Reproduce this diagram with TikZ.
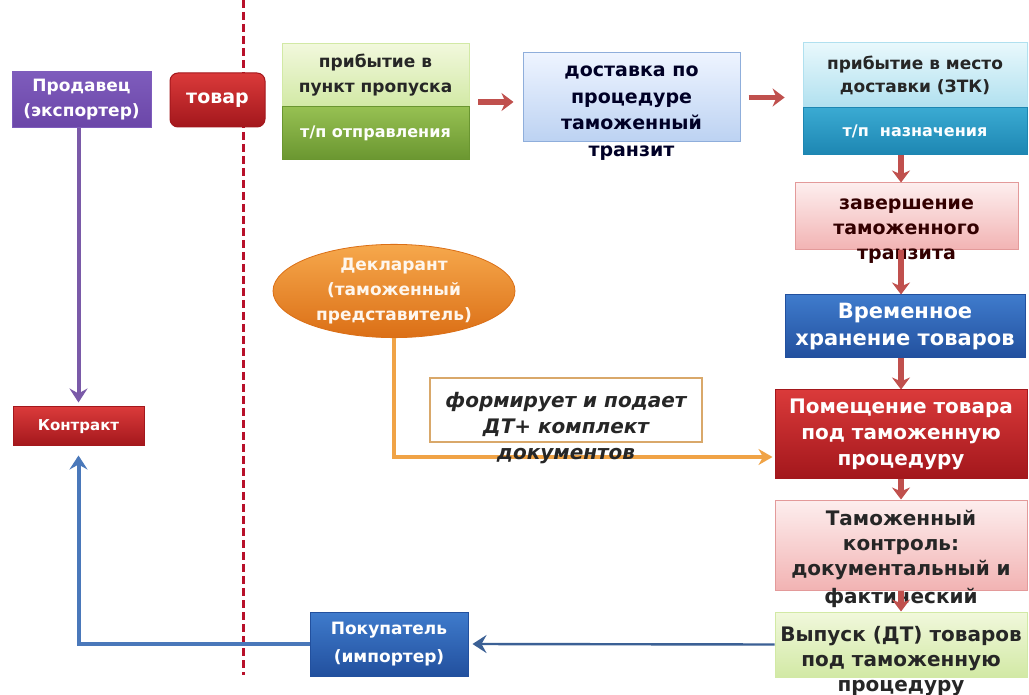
\documentclass[tikz,border=0pt]{standalone}
\usepackage{fontspec}
\setmainfont{DejaVu Sans}
\usetikzlibrary{arrows.meta,positioning,calc,shapes.geometric}
\definecolor{cPurple}{HTML}{6B46A8}
\definecolor{cPurpleT}{HTML}{7E5CBC}
\definecolor{cRedT}{HTML}{DA3A3A}
\definecolor{cRedB}{HTML}{A3171C}
\definecolor{cGreenT}{HTML}{F1F8DC}
\definecolor{cGreenB}{HTML}{D2E9A5}
\definecolor{cGreenDT}{HTML}{96C052}
\definecolor{cGreenDB}{HTML}{6A9630}
\definecolor{cSkyT}{HTML}{EEF4FF}
\definecolor{cSkyB}{HTML}{BCD2F2}
\definecolor{cSkyD}{HTML}{8FAEDB}
\definecolor{cCyanT}{HTML}{E8F8FC}
\definecolor{cCyanB}{HTML}{B0E0EF}
\definecolor{cCyanDT}{HTML}{3AAAD2}
\definecolor{cCyanDB}{HTML}{1D86B2}
\definecolor{cPinkT}{HTML}{FDEEEE}
\definecolor{cPinkB}{HTML}{F2B3B3}
\definecolor{cPinkD}{HTML}{E39A9A}
\definecolor{cBlueT}{HTML}{3F7BCC}
\definecolor{cBlueB}{HTML}{22509E}
\definecolor{cOrT}{HTML}{F6A84C}
\definecolor{cOrB}{HTML}{DB6F16}
\definecolor{cArr}{HTML}{C0504D}
\definecolor{cLine}{HTML}{B8102A}
\definecolor{cOrLine}{HTML}{F0A346}
\definecolor{cFrame}{HTML}{D9A86A}
\definecolor{cBlueLine}{HTML}{4A78BA}
\definecolor{cPurLine}{HTML}{7A5AA8}
\newcommand\fsz[2]{\fontsize{#1}{#2}\selectfont}

\begin{document}
\begin{tikzpicture}[x=0.5pt, y=-0.5pt,
    every node/.style={align=center, inner sep=0pt, font=\bfseries},
    box/.style={rectangle, draw=#1, line width=0.5pt},
    redarr/.style={draw=cArr, line width=2.6pt, -{Stealth[length=6pt,width=9pt]}},
    bluearr/.style={draw=cBlueLine, line width=2pt, -{Stealth[length=7pt,width=9pt,inset=2.5pt]}},
  ]
  \fill[white] (0,0) rectangle (1029,695);
  \useasboundingbox (0,0) rectangle (1029,695);
  % border
  \draw[cLine, line width=1.5pt, dash pattern=on 4pt off 2pt] (243,0) -- (243,675);

  % seller, goods, contract, buyer
  \node[box=cPurpleT, top color=cPurpleT, bottom color=cPurple, minimum width=69.5pt, minimum height=28pt,
        text=white, font=\bfseries\fsz{8.5}{12.5}] (prod) at (81.5,100) {Продавец\\(экспортер)};
  \node[box=cRedB, rounded corners=4pt, top color=cRedT, bottom color=cRedB, minimum width=47.5pt, minimum height=27pt,
        text=white, font=\bfseries\fsz{9.5}{12}] (tovar) at (217.5,100) {товар};
  \node[box=cRedB, top color=cRedT, bottom color=cRedB, minimum width=65.5pt, minimum height=19.5pt,
        text=white, font=\bfseries\fsz{7.5}{9}] (kontr) at (78.5,426.5) {Контракт};
  \node[box=cBlueB, top color=cBlueT, bottom color=cBlueB, minimum width=79pt, minimum height=32pt,
        text=white, font=\bfseries\fsz{8.5}{14}] (pokup) at (389,644) {Покупатель\\(импортер)};

  % top row
  \node[box=cGreenB, top color=cGreenT, bottom color=cGreenB, minimum width=93.5pt, minimum height=31.5pt,
        text=black!85, font=\bfseries\fsz{8.5}{12.5}] (prib1t) at (375.5,75.5) {прибытие в\\пункт пропуска};
  \node[box=cGreenDB, top color=cGreenDT, bottom color=cGreenDB, minimum width=93.5pt, minimum height=26.5pt,
        text=white!88!cGreenT, font=\bfseries\fsz{8}{10}] (prib1b) at (375.5,133.5) {т/п отправления};
  \node[minimum width=93.5pt, minimum height=58pt] (prib1) at (375.5,102) {};

  \node[box=cSkyD, top color=cSkyT, bottom color=cSkyB, minimum width=108.5pt, minimum height=44.5pt] (dost) at (631.5,97.5) {};
  \node[text=black!85!blue, font=\bfseries\fsz{9.5}{13.25}] (dosttxt) at (631.5,113) {доставка по\\процедуре\\таможенный\\транзит};

  \node[box=cCyanB, top color=cCyanT, bottom color=cCyanB, minimum width=112pt, minimum height=32.5pt,
        text=black!85, font=\bfseries\fsz{8.5}{11.5}] (prib2t) at (915,75.5) {прибытие в место\\доставки (ЗТК)};
  \node[box=cCyanDB, top color=cCyanDT, bottom color=cCyanDB, minimum width=112pt, minimum height=23.5pt,
        text=white!88!cCyanT, font=\bfseries\fsz{8}{10}] (prib2b) at (915,131.5) {т/п~~назначения};
  \node[minimum width=112pt, minimum height=56pt] (prib2) at (915,99) {};

  % right column
  \node[box=cPinkD, top color=cPinkT, bottom color=cPinkB, minimum width=111.5pt, minimum height=33.5pt] (zav) at (906.5,216.5) {};
  \node[text=black!80!red, font=\bfseries\fsz{9.5}{12.5}] (zavtxt) at (906.5,231) {завершение\\таможенного\\транзита};
  \node[box=cBlueB, top color=cBlueT, bottom color=cBlueB, minimum width=120pt, minimum height=31.5pt,
        text=white, font=\bfseries\fsz{10.5}{13.5}] (vrem) at (905,326.5) {Временное\\хранение товаров};
  \node[box=cRedB, top color=cRedT, bottom color=cRedB, minimum width=126pt, minimum height=44pt,
        text=white, font=\bfseries\fsz{10}{13}] (pomesh) at (901,434) {Помещение товара\\под таможенную\\процедуру};
  \node[box=cPinkD, top color=cPinkT, bottom color=cPinkB, minimum width=126pt, minimum height=45pt] (tamk) at (901,545) {};
  \node[text=black!85, font=\bfseries\fsz{10}{12.5}] (tamktxt) at (901,559) {Таможенный\\контроль:\\документальный и\\[1.5pt]фактический};
  \node[box=cGreenB, top color=cGreenT, bottom color=cGreenB, minimum width=126pt, minimum height=32.5pt] (vyp) at (901,644.5) {};
  \node[text=black!85, font=\bfseries\fsz{10}{12.5}] (vyptxt) at (901,661) {Выпуск (ДТ) товаров\\под таможенную\\процедуру};

  % declarant
  \node[ellipse, draw=cOrB, top color=cOrT, bottom color=cOrB, minimum width=121pt, minimum height=46pt,
        text=white!90!cOrT, font=\bfseries\fsz{8.5}{12.5}] (dekl) at (394,291) {Декларант\\(таможенный\\представитель)};
  \node[box=cFrame, line width=1pt, fill=white, minimum width=136pt, minimum height=32pt] (formbox) at (566,410) {};
  \draw[cOrLine, line width=2pt, -{Stealth[length=7pt,width=8pt]}, shorten >=1pt]
    (dekl.south) |- ([yshift=-11.5pt]pomesh.west);
  \node[text=black!85, font=\bfseries\itshape\fsz{10}{13}] (formtxt) at (566,428.5) {формирует и подает\\ДТ+ комплект\\документов};

  % arrows
  \draw[redarr, shorten <=4.5pt, shorten >=4.5pt] (prib1.east) -- (prib1.east -| dost.west);
  \draw[redarr, shorten <=4pt, shorten >=9pt] (dost.east) -- (dost.east -| prib2.west);
  \draw[redarr] (prib2.south -| pomesh) -- (zav.north -| pomesh);
  \draw[redarr] (zav.south -| pomesh) -- (vrem.north -| pomesh);
  \draw[redarr] (vrem.south -| pomesh) -- (pomesh.north);
  \draw[redarr] (pomesh.south) -- (tamk.north);
  \draw[redarr] (tamk.south) -- (vyp.north);
  \draw[cPurLine, line width=2pt, -{Stealth[length=7pt,width=9pt,inset=2.5pt]}, shorten >=2pt]
    (prod.south -| kontr) -- (kontr.north);
  \draw[bluearr, draw=cBlueLine!80!black, line width=1.2pt, shorten >=2pt] (vyp.west) -- (pokup.east);
  \draw[bluearr, shorten >=4.5pt] (pokup.west) -| (kontr.south);
\end{tikzpicture}
\end{document}
